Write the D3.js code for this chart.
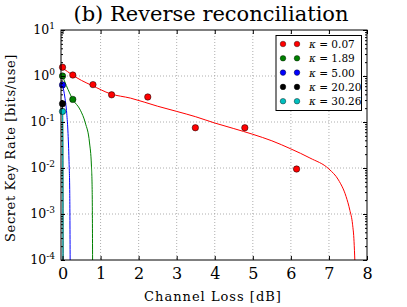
<!DOCTYPE html>
<html>
<head>
<meta charset="utf-8">
<script src="https://cdn.jsdelivr.net/npm/d3@7"></script>
<style>
  body { margin: 0; background: #fff; }
  svg { display: block; }
  text { font-family: "DejaVu Serif", serif; fill: #000; }
</style>
</head>
<body>
<svg width="407" height="307"></svg>
<script>
// series labels and colors
const kappas = ["0.07", "1.89", "5.00", "20.20", "30.26"];
const colors = ["#ff0000", "#008000", "#0000ff", "#000000", "#00bfbf"];

// measured points [loss dB, rate]
const pts007 = [[0, 1.55], [0.27, 1.05], [0.8, 0.65], [1.29, 0.39], [2.24, 0.35], [3.49, 0.075], [4.79, 0.075], [6.15, 0.0095]];
const pts189 = [[0, 1.0], [0.27, 0.31]];
const pts500 = [[0, 0.64]];
const pts2020 = [[0, 0.25]];
const pts3026 = [[0, 0.17]];

// theory curves [loss dB, rate]
const curve007 = [[0, 1.5], [0.26, 1.05], [0.5, 0.8], [0.78, 0.62], [1.26, 0.41], [1.79, 0.33], [2.5, 0.22],
  [3, 0.17], [3.5, 0.13], [4, 0.095], [4.5, 0.072], [5, 0.054], [5.5, 0.039], [6, 0.026], [6.5, 0.0165],
  [7, 0.0095], [7.25, 0.0055], [7.45, 0.0024], [7.55, 0.0012], [7.62, 0.0006], [7.66, 0.00025], [7.68, 0.0001]];
const curve189 = [[0, 1.0], [0.1, 0.62], [0.27, 0.31], [0.47, 0.18], [0.6, 0.095], [0.71, 0.035],
  [0.76, 0.011], [0.78, 0.0029], [0.79, 0.0001]];
const curve500 = [[0, 0.64], [0.06, 0.35], [0.11, 0.155], [0.145, 0.056], [0.17, 0.015], [0.19, 0.0028], [0.2, 0.0001]];
const curve2020 = [[0, 0.25], [0.01, 0.01], [0.015, 0.0001]];
const curve3026 = [[0, 0.17], [0.008, 0.01], [0.012, 0.0001]];

const xTicks = [0, 1, 2, 3, 4, 5, 6, 7, 8];
const yExps = [-4, -3, -2, -1, 0, 1];

const series = [
  { pts: pts007, curve: curve007 },
  { pts: pts189, curve: curve189 },
  { pts: pts500, curve: curve500 },
  { pts: pts2020, curve: curve2020 },
  { pts: pts3026, curve: curve3026 }
];

const svg = d3.select("svg");
const L = 61, R = 367, T = 30, B = 260;

const x = d3.scaleLinear().domain([-0.04, 8]).range([L, R]);
const y = d3.scaleLog().domain([1e-4, 10]).range([B, T]);

// grid
const grid = svg.append("g").attr("stroke", "#999").attr("stroke-width", 0.8).attr("stroke-dasharray", "1,2");
grid.selectAll(".gx").data(xTicks.slice(1, -1)).enter().append("line")
  .attr("x1", d => x(d)).attr("x2", d => x(d)).attr("y1", T).attr("y2", B);
grid.selectAll(".gy").data(yExps.slice(1, -1)).enter().append("line")
  .attr("x1", L).attr("x2", R).attr("y1", d => y(Math.pow(10, d))).attr("y2", d => y(Math.pow(10, d)));

// curves
const line = d3.line().x(d => x(d[0])).y(d => y(d[1])).curve(d3.curveMonotoneX);
const plot = svg.append("g");
series.forEach((s, i) => {
  plot.append("path").datum(s.curve)
    .attr("fill", "none").attr("stroke", colors[i]).attr("stroke-width", 1)
    .attr("d", line);
});
series.forEach((s, i) => {
  plot.selectAll(null).data(s.pts).enter().append("circle")
    .attr("cx", d => x(d[0])).attr("cy", d => y(d[1])).attr("r", 3.2)
    .attr("fill", colors[i]).attr("stroke", "#000").attr("stroke-width", 0.5);
});

// frame
svg.append("rect").attr("x", L).attr("y", T).attr("width", R - L).attr("height", B - T)
  .attr("fill", "none").attr("stroke", "#000").attr("stroke-width", 1);

// x axis (ticks inside, top and bottom)
const xb = svg.append("g").attr("transform", `translate(0,${B})`)
  .call(d3.axisBottom(x).tickValues(xTicks).tickSize(-4).tickPadding(8).tickFormat(d3.format("d")));
xb.select(".domain").remove();
xb.selectAll("text").attr("font-size", 16).attr("font-family", "DejaVu Serif");
const xt = svg.append("g").attr("transform", `translate(0,${T})`)
  .call(d3.axisTop(x).tickValues(xTicks).tickSize(-4).tickFormat(""));
xt.select(".domain").remove();

// y axis
const minors = [];
yExps.slice(0, -1).forEach(e => { for (let m = 2; m <= 9; m++) minors.push(m * Math.pow(10, e)); });
const yl = svg.append("g").attr("transform", `translate(${L},0)`)
  .call(d3.axisLeft(y).tickValues(yExps.map(e => Math.pow(10, e))).tickSize(-4).tickPadding(6).tickFormat(""));
yl.select(".domain").remove();
svg.append("g").attr("transform", `translate(${L},0)`)
  .call(d3.axisLeft(y).tickValues(minors).tickSize(-2).tickFormat("")).select(".domain").remove();
svg.append("g").attr("transform", `translate(${R},0)`)
  .call(d3.axisRight(y).tickValues(yExps.map(e => Math.pow(10, e))).tickSize(-4).tickFormat("")).select(".domain").remove();
svg.append("g").attr("transform", `translate(${R},0)`)
  .call(d3.axisRight(y).tickValues(minors).tickSize(-2).tickFormat("")).select(".domain").remove();

yExps.forEach(e => {
  const t = svg.append("text").attr("x", L - 6).attr("y", y(Math.pow(10, e)) + 4)
    .attr("text-anchor", "end").attr("font-size", 12.5);
  t.append("tspan").text("10");
  t.append("tspan").attr("dy", -5).attr("font-size", 9).text(e);
});

// titles
svg.append("text").attr("x", 211).attr("y", 21).attr("text-anchor", "middle")
  .attr("font-size", 21).text("(b) Reverse reconciliation");
svg.append("text").attr("x", 213).attr("y", 301).attr("text-anchor", "middle")
  .attr("font-size", 13).attr("letter-spacing", 1).text("Channel Loss [dB]");
svg.append("text").attr("transform", "translate(15,148) rotate(-90)").attr("text-anchor", "middle")
  .attr("font-size", 13).attr("letter-spacing", 0.6).text("Secret Key Rate [bits/use]");

// legend
const lg = svg.append("g");
lg.append("rect").attr("x", 276).attr("y", 35.5).attr("width", 85.5).attr("height", 75)
  .attr("fill", "#fff").attr("stroke", "#000").attr("stroke-width", 1);
kappas.forEach((k, i) => {
  const yy = 44 + i * 14.3;
  [283, 297].forEach(cx => lg.append("circle").attr("cx", cx).attr("cy", yy).attr("r", 2.8)
    .attr("fill", colors[i]).attr("stroke", "#000").attr("stroke-width", 0.4));
  const t = lg.append("text").attr("x", 309).attr("y", yy + 4).attr("font-size", 10.5);
  t.append("tspan").attr("font-style", "italic").text("κ");
  t.append("tspan").text(" = " + k);
});
</script>
</body>
</html>
